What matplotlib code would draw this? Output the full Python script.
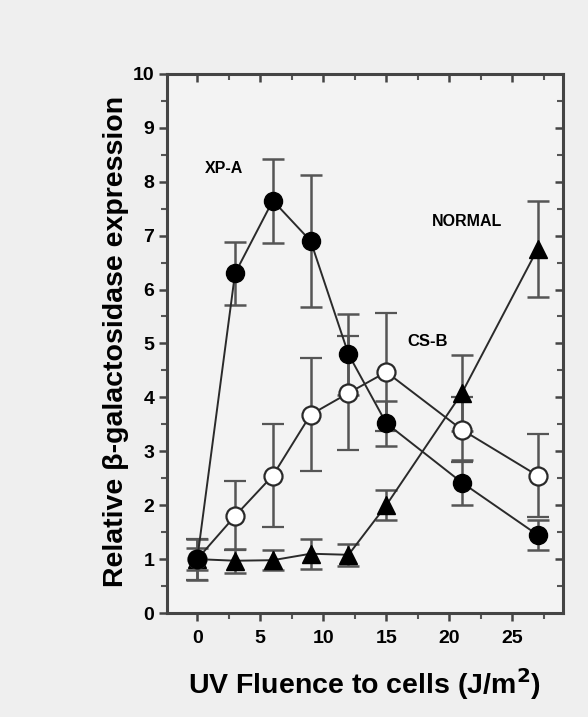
import matplotlib.pyplot as plt
from matplotlib.ticker import MultipleLocator

plt.rcParams['font.family'] = ['Liberation Sans', 'DejaVu Sans']

# fluence values (J/m2)
fluence = [0, 3, 6, 9, 12, 15, 21, 27]

# XP-A cells (filled circles)
xpa = [1.0, 6.3, 7.65, 6.9, 4.8, 3.52, 2.42, 1.45]
xpa_err = [0.38, 0.58, 0.78, 1.22, 0.75, 0.42, 0.42, 0.28]

# CS-B cells (open circles)
csb = [1.0, 1.8, 2.55, 3.68, 4.08, 4.47, 3.4, 2.55]
csb_err = [0.38, 0.64, 0.95, 1.05, 1.05, 1.1, 0.6, 0.77]

# normal cells (triangles)
normal = [1.0, 0.97, 0.98, 1.1, 1.08, 2.0, 4.08, 6.75]
normal_err = [0.2, 0.22, 0.18, 0.28, 0.2, 0.28, 0.7, 0.89]

line_col = '#2a2a2a'

fig = plt.figure(figsize=(5.88, 7.17), dpi=100, facecolor='#efefef')
ax = fig.add_axes([0.284, 0.145, 0.673, 0.752], facecolor='#f3f3f3')

kw = dict(color=line_col, ecolor='#555555', elinewidth=1.8, capsize=8,
          capthick=1.8, lw=1.4, ms=13)

ax.errorbar(fluence, normal, yerr=normal_err, fmt='-^', mfc='black',
            mec='black', **kw)
ax.errorbar(fluence, csb, yerr=csb_err, fmt='-o', mfc='white',
            mec=line_col, mew=1.6, **kw)
ax.errorbar(fluence, xpa, yerr=xpa_err, fmt='-o', mfc='black',
            mec='black', **kw)

# curve labels
ax.text(2.1, 8.25, 'XP-A', fontsize=11.5, fontweight='bold', ha='center', va='center')
ax.text(21.4, 7.27, 'NORMAL', fontsize=11.5, fontweight='bold', ha='center', va='center')
ax.text(18.3, 5.03, 'CS-B', fontsize=12, fontweight='bold', ha='center', va='center')

ax.set_xlim(-2.4, 29)
ax.set_ylim(0, 10)
ax.set_xticks([0, 5, 10, 15, 20, 25])
ax.set_yticks(range(0, 11))
ax.xaxis.set_minor_locator(MultipleLocator(2.5))
ax.yaxis.set_minor_locator(MultipleLocator(0.5))

ax.tick_params(axis='both', which='major', labelsize=14, width=1.8, length=6,
               color='#444444')
ax.tick_params(axis='both', which='minor', width=1.5, length=4, color='#555555')
ax.tick_params(axis='x', which='both', direction='out', pad=6)
ax.tick_params(axis='y', which='both', direction='out', pad=3)
# mirrored ticks point into the plot
ax.tick_params(axis='x', which='both', top=True)
ax.tick_params(axis='y', which='both', right=True)
for tk in ax.xaxis.get_major_ticks() + ax.xaxis.get_minor_ticks():
    tk.tick2line.set_marker(3)  # TICKDOWN
for tk in ax.yaxis.get_major_ticks() + ax.yaxis.get_minor_ticks():
    tk.tick2line.set_marker(0)  # TICKLEFT
for lbl in ax.get_xticklabels() + ax.get_yticklabels():
    lbl.set_fontweight('bold')

for s in ax.spines.values():
    s.set_linewidth(2.2)
    s.set_color('#444444')

ax.set_xlabel('UV Fluence to cells (J/m$\\mathbf{^2}$)', fontsize=20.5,
              fontweight='bold', labelpad=14)
ax.set_ylabel('Relative β-galactosidase expression', fontsize=20.5,
              fontweight='bold')
ax.yaxis.set_label_coords(-0.095, 0.503)

fig.savefig('out.png', dpi=100, facecolor=fig.get_facecolor())
